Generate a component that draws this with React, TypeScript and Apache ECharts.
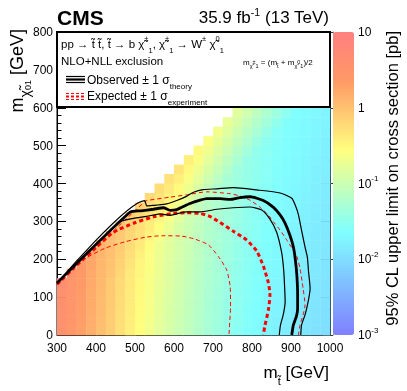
import React, { useEffect, useRef } from 'react';
import * as echarts from 'echarts';

// stop mass bin lower edges [GeV]
const M_STOP_BINS = [300, 325, 350, 375, 400, 425, 450, 475, 500, 525, 550, 575, 600, 625, 650, 675, 700, 725, 750, 775, 800, 825, 850, 875, 900, 925, 950, 975];
// LSP mass bin lower edges [GeV]
const M_LSP_BINS = [0, 25, 50, 75, 100, 125, 150, 175, 200, 225, 250, 275, 300, 325, 350, 375, 400, 425, 450, 475, 500, 525, 550, 575, 600];

// log10 of the 95% CL upper limit [pb]; each row is one LSP bin, right-aligned to the last stop bin
const LOG_LIMIT_ROWS: number[][] = [
  [0.55, 0.42, 0.30, 0.16, 0.02, -0.12, -0.27, -0.42, -0.55, -0.67, -0.79, -0.90, -1.00, -1.10, -1.20, -1.30, -1.38, -1.46, -1.54, -1.61, -1.67, -1.73, -1.78, -1.83, -1.87, -1.91, -1.95, -1.98],
  [0.56, 0.43, 0.31, 0.17, 0.03, -0.11, -0.26, -0.41, -0.54, -0.66, -0.78, -0.89, -0.99, -1.09, -1.19, -1.29, -1.37, -1.45, -1.53, -1.60, -1.66, -1.72, -1.77, -1.82, -1.86, -1.90, -1.94, -1.97],
  [0.57, 0.44, 0.32, 0.18, 0.04, -0.10, -0.25, -0.40, -0.53, -0.65, -0.77, -0.88, -0.98, -1.08, -1.18, -1.28, -1.36, -1.44, -1.52, -1.59, -1.65, -1.71, -1.76, -1.81, -1.85, -1.89, -1.93, -1.96],
  [0.58, 0.45, 0.33, 0.19, 0.05, -0.09, -0.24, -0.39, -0.52, -0.64, -0.76, -0.87, -0.97, -1.07, -1.17, -1.27, -1.35, -1.43, -1.51, -1.58, -1.64, -1.70, -1.75, -1.80, -1.84, -1.88, -1.92, -1.95],
  [0.59, 0.46, 0.34, 0.20, 0.06, -0.08, -0.23, -0.38, -0.51, -0.63, -0.75, -0.86, -0.96, -1.06, -1.16, -1.26, -1.34, -1.42, -1.50, -1.57, -1.63, -1.69, -1.74, -1.79, -1.83, -1.87, -1.91, -1.94],
  [0.60, 0.47, 0.35, 0.21, 0.07, -0.07, -0.22, -0.37, -0.50, -0.62, -0.74, -0.85, -0.95, -1.05, -1.15, -1.25, -1.33, -1.41, -1.49, -1.56, -1.62, -1.68, -1.73, -1.78, -1.82, -1.86, -1.90, -1.94],
  [0.48, 0.36, 0.22, 0.08, -0.04, -0.19, -0.36, -0.49, -0.61, -0.73, -0.84, -0.94, -1.04, -1.14, -1.24, -1.32, -1.40, -1.48, -1.55, -1.61, -1.67, -1.72, -1.77, -1.81, -1.85, -1.89, -1.92],
  [0.37, 0.23, 0.09, -0.02, -0.16, -0.32, -0.48, -0.60, -0.72, -0.83, -0.93, -1.03, -1.13, -1.23, -1.31, -1.39, -1.47, -1.54, -1.60, -1.66, -1.71, -1.76, -1.80, -1.84, -1.88, -1.91],
  [0.24, 0.10, 0.00, -0.13, -0.28, -0.43, -0.59, -0.71, -0.82, -0.92, -1.02, -1.12, -1.22, -1.30, -1.38, -1.46, -1.53, -1.59, -1.65, -1.70, -1.75, -1.79, -1.83, -1.87, -1.90],
  [0.11, 0.02, -0.10, -0.24, -0.38, -0.53, -0.70, -0.81, -0.91, -1.01, -1.11, -1.21, -1.29, -1.37, -1.45, -1.52, -1.58, -1.64, -1.69, -1.74, -1.78, -1.82, -1.86, -1.89],
  [0.04, -0.06, -0.20, -0.32, -0.46, -0.63, -0.80, -0.90, -1.00, -1.10, -1.20, -1.28, -1.36, -1.44, -1.51, -1.57, -1.63, -1.68, -1.73, -1.77, -1.81, -1.85, -1.88],
  [-0.03, -0.15, -0.27, -0.40, -0.55, -0.72, -0.89, -0.99, -1.09, -1.19, -1.27, -1.35, -1.43, -1.50, -1.56, -1.62, -1.67, -1.72, -1.76, -1.80, -1.84, -1.87],
  [-0.11, -0.22, -0.34, -0.48, -0.63, -0.80, -0.98, -1.08, -1.18, -1.26, -1.34, -1.42, -1.49, -1.55, -1.61, -1.66, -1.71, -1.75, -1.79, -1.83, -1.86],
  [-0.17, -0.28, -0.41, -0.55, -0.70, -0.89, -1.07, -1.17, -1.25, -1.33, -1.41, -1.48, -1.54, -1.60, -1.65, -1.70, -1.74, -1.78, -1.82, -1.85],
  [-0.22, -0.33, -0.47, -0.61, -0.79, -0.98, -1.16, -1.24, -1.32, -1.40, -1.47, -1.53, -1.59, -1.64, -1.69, -1.73, -1.77, -1.81, -1.84],
  [-0.26, -0.38, -0.52, -0.70, -0.88, -1.07, -1.23, -1.31, -1.39, -1.46, -1.52, -1.58, -1.63, -1.68, -1.72, -1.76, -1.80, -1.83],
  [-0.30, -0.42, -0.61, -0.79, -0.97, -1.14, -1.30, -1.38, -1.45, -1.51, -1.57, -1.62, -1.67, -1.71, -1.75, -1.79, -1.82],
  [-0.33, -0.51, -0.70, -0.88, -1.04, -1.21, -1.37, -1.44, -1.50, -1.56, -1.61, -1.66, -1.70, -1.74, -1.78, -1.81],
  [-0.42, -0.60, -0.79, -0.95, -1.11, -1.28, -1.43, -1.49, -1.55, -1.60, -1.65, -1.69, -1.73, -1.77, -1.80],
  [-0.51, -0.69, -0.86, -1.02, -1.18, -1.34, -1.48, -1.54, -1.59, -1.64, -1.68, -1.72, -1.76, -1.79],
  [-0.60, -0.76, -0.93, -1.09, -1.24, -1.39, -1.53, -1.58, -1.63, -1.67, -1.71, -1.75, -1.78],
  [-0.67, -0.83, -1.00, -1.15, -1.29, -1.44, -1.57, -1.62, -1.66, -1.70, -1.74, -1.77],
  [-0.74, -0.90, -1.06, -1.20, -1.34, -1.48, -1.61, -1.65, -1.69, -1.73, -1.76],
  [-0.81, -0.96, -1.11, -1.25, -1.38, -1.52, -1.64, -1.68, -1.72, -1.75],
  [-0.87, -1.01, -1.16, -1.29, -1.42, -1.55, -1.67, -1.71, -1.74],
];

// exclusion contours [m_stop, m_LSP]
const OBS_CENTRAL = [[300, 137], [487, 324], [515, 328], [547, 332], [573, 336], [590, 329], [607, 331], [641, 347], [667, 356], [684, 360], [718, 360], [744, 358], [769, 363], [795, 365], [829, 355], [855, 337], [872, 317], [885, 295], [897, 264], [906, 233], [911, 200], [915, 158], [917, 106], [917, 70], [914, 50], [906, 26], [902, 0]];
const OBS_UP = [[300, 137], [525, 355], [530, 341], [556, 343], [581, 346], [607, 355], [632, 366], [650, 377], [675, 384], [710, 386], [752, 389], [812, 383], [872, 375], [902, 361], [912, 340], [919, 318], [927, 277], [936, 232], [942, 205], [945, 167], [949, 123], [944, 88], [936, 53], [927, 26], [925, 0]];
const OBS_DOWN = [[300, 137], [461, 298], [496, 308], [530, 313], [564, 320], [590, 316], [607, 320], [633, 325], [667, 325], [710, 332], [752, 336], [795, 338], [825, 330], [846, 306], [863, 272], [876, 218], [881, 175], [883, 141], [885, 88], [880, 53], [873, 26], [870, 0]];
const EXP_CENTRAL = [[300, 134], [350, 184], [400, 231], [440, 268], [461, 280], [496, 295], [547, 312], [598, 321], [632, 323], [667, 321], [692, 313], [718, 297], [752, 274], [786, 251], [812, 222], [829, 182], [842, 138], [846, 105], [842, 66], [833, 24], [829, 0]];
const EXP_UP = [[300, 136], [525, 352], [530, 355], [590, 364], [632, 370], [684, 378], [744, 373], [769, 367], [795, 356], [820, 338], [838, 321], [855, 299], [872, 277], [889, 251], [906, 224], [915, 207], [923, 176], [931, 123], [936, 79], [931, 53], [923, 26], [919, 0]];
const EXP_DOWN = [[300, 133], [338, 176], [372, 202], [423, 229], [474, 246], [526, 258], [568, 262], [620, 261], [654, 253], [688, 238], [714, 207], [735, 172], [744, 128], [745, 75], [742, 20], [741, 0]];

const COLOR_DECADES = [-3, -2, -1, 0, 1];

const FONT = 'Liberation Sans, Arial, Helvetica, sans-serif';

// pastel rainbow palette (stops as in the CMS SUSY style)
function buildPalette(): string[] {
  const stops = [0, 0.34, 0.61, 0.84, 1];
  const r = [0.5, 0.5, 1, 1, 1];
  const g = [0.5, 1, 1, 0.6, 0.5];
  const b = [1, 1, 0.5, 0.4, 0.5];
  const out: string[] = [];
  for (let i = 0; i <= 100; i++) {
    const t = i / 100;
    let k = 0;
    while (k < stops.length - 2 && t > stops[k + 1]) k++;
    const f = (t - stops[k]) / (stops[k + 1] - stops[k]);
    const c = (arr: number[]) => Math.round(255 * (arr[k] + (arr[k + 1] - arr[k]) * f));
    out.push(`rgb(${c(r)},${c(g)},${c(b)})`);
  }
  return out;
}

function minorLogTicks(): number[] {
  const v: number[] = [];
  for (let d = -3; d < 1; d++) for (let m = 2; m <= 9; m++) v.push(d + Math.log10(m));
  return v;
}

const richText = (x: number, y: number, text: string, rich: any, align = 'left', extra: any = {}, vAlign = 'middle') => ({
  type: 'text', z: 101, x, y, ...extra,
  style: { text, rich, align, textAlign: align, verticalAlign: vAlign, textVerticalAlign: vAlign },
});

export default function App() {
  const ref = useRef<HTMLDivElement>(null);
  useEffect(() => {
    const chart = echarts.init(ref.current!, null, { renderer: 'svg' });
    const binX = M_STOP_BINS[1] - M_STOP_BINS[0];
    const binY = M_LSP_BINS[1] - M_LSP_BINS[0];
    const cells: number[][] = [];
    LOG_LIMIT_ROWS.forEach((row, k) => {
      const start = M_STOP_BINS.length - row.length;
      row.forEach((v, i) => cells.push([M_STOP_BINS[start + i], M_LSP_BINS[k], v]));
    });

    const lineSeries = (data: number[][], color: string, width: number, type: any) => ({
      type: 'line', xAxisIndex: 0, yAxisIndex: 0, data, showSymbol: false, symbol: 'none',
      smooth: 0.2, silent: true, z: 5,
      lineStyle: { color, width, type },
    });

    const mainAxisCommon = {
      axisLine: { show: true, lineStyle: { color: '#000', width: 1 } },
      axisTick: { show: true, inside: true, length: 9, lineStyle: { color: '#000', width: 1 } },
      minorTick: { show: true, splitNumber: 5, length: 4.5, lineStyle: { color: '#000', width: 1 } },
      splitLine: { show: false },
      minorSplitLine: { show: false },
    };

    const txt = (size: number, extra: any = {}) => ({ fontSize: size, fontFamily: FONT, fill: '#000', color: '#000', ...extra });

    const option: any = {
      animation: false,
      textStyle: { fontFamily: FONT },
      grid: [
        { left: 57, top: 32, width: 273, height: 303, show: true, borderColor: '#000', borderWidth: 1, backgroundColor: 'transparent' },
        { left: 333, top: 32, width: 21, height: 303 },
      ],
      xAxis: [
        {
          gridIndex: 0, type: 'value', min: 300, max: 1000, interval: 100, ...mainAxisCommon,
          axisLabel: { color: '#000', fontSize: 12, fontFamily: FONT, margin: 7, lineHeight: 12, showMinLabel: true, showMaxLabel: true, formatter: (v: number) => String(v) },
        },
        { gridIndex: 1, type: 'value', min: 0, max: 1, show: false },
      ],
      yAxis: [
        {
          gridIndex: 0, type: 'value', min: 0, max: 800, interval: 100, position: 'left', ...mainAxisCommon,
          axisLabel: { color: '#000', fontSize: 12, fontFamily: FONT, margin: 4, lineHeight: 12, showMinLabel: true, showMaxLabel: true, formatter: (v: number) => String(v) },
        },
        {
          gridIndex: 0, type: 'value', min: 0, max: 800, interval: 100, position: 'right', ...mainAxisCommon,
          axisLabel: { show: false },
        },
        {
          gridIndex: 1, type: 'value', min: -3, max: 1, position: 'right',
          axisLine: { show: true, lineStyle: { color: '#888', width: 1 } },
          axisTick: { show: true, inside: true, length: 10, customValues: COLOR_DECADES, lineStyle: { color: '#333', width: 1 } },
          axisLabel: {
            show: true, customValues: COLOR_DECADES, margin: 4, color: '#000',
            formatter: (v: number) => {
              const e = Math.round(v);
              if (e === 1) return '{n|10}';
              if (e === 0) return '{n|1}';
              return `{n|10}{sup|${e}}`;
            },
            rich: {
              n: { fontSize: 12, fontFamily: FONT, color: '#000', lineHeight: 18 },
              sup: { fontSize: 8, fontFamily: FONT, color: '#000', lineHeight: 10, verticalAlign: 'top' },
            },
          },
          splitLine: { show: false },
        },
        {
          gridIndex: 1, type: 'value', min: -3, max: 1, position: 'right',
          axisLine: { show: false },
          axisTick: { show: true, inside: true, length: 5, customValues: minorLogTicks(), lineStyle: { color: '#333', width: 1 } },
          axisLabel: { show: false },
          splitLine: { show: false },
        },
      ],
      visualMap: {
        type: 'continuous', min: -3, max: 1, dimension: 2, seriesIndex: 0,
        inRange: { color: buildPalette() },
        orient: 'vertical', left: 333, top: 32, itemWidth: 21, itemHeight: 303, padding: 0,
        calculable: false, hoverLink: false, realtime: false,
      },
      series: [
        {
          type: 'custom', xAxisIndex: 0, yAxisIndex: 0, data: cells, silent: true, z: 1,
          encode: { x: 0, y: 1 },
          renderItem: (params: any, api: any) => {
            const x0 = api.value(0);
            const y0 = api.value(1);
            const a = api.coord([x0, y0 + binY]);
            const b = api.coord([x0 + binX, y0]);
            return {
              type: 'rect',
              shape: { x: a[0], y: a[1], width: b[0] - a[0] + 0.4, height: b[1] - a[1] + 0.4 },
              style: { fill: api.visual('color') },
            };
          },
        },
        lineSeries(EXP_DOWN, '#ff0000', 1, [4, 3]),
        lineSeries(EXP_UP, '#ff0000', 1, [4, 3]),
        lineSeries(EXP_CENTRAL, '#ff0000', 3, [4, 3]),
        lineSeries(OBS_DOWN, '#000', 1.2, 'solid'),
        lineSeries(OBS_UP, '#000', 1.2, 'solid'),
        lineSeries(OBS_CENTRAL, '#000', 2.8, 'solid'),
        { type: 'line', xAxisIndex: 1, yAxisIndex: 2, data: [] },
      ],
      graphic: [
        // legend box
        { type: 'rect', z: 100, shape: { x: 57, y: 32, width: 273, height: 75 }, style: { fill: '#fff', stroke: '#000', lineWidth: 2 } },
        // process line + NLO+NLL line in one two-line text block
        richText(61, 34,
          '{n|pp → t\u0303 t\u0303, t\u0303 → b χ\u0303}{sup|±}{sub|1}{n|, χ\u0303}{sup|±}{sub|1}{n| → W}{sup|±}{n| χ\u0303}{sup|0}{sub|1}\n{m|NLO+NLL exclusion}',
          {
            n: txt(11.5, { lineHeight: 20 }),
            m: txt(11.5, { lineHeight: 14 }),
            sup: txt(7.5, { lineHeight: 10, verticalAlign: 'top' }),
            sub: txt(7.5, { lineHeight: 10, verticalAlign: 'bottom' }),
          }, 'left', {}, 'top'),
        richText(243, 62,
          '{n|m}{sub|χ\u0303}{ss|±}{sub|1}{n| = (m}{sub|t\u0303}{n| + m}{sub|χ\u0303}{ss|0}{sub|1}{n|)/2}',
          {
            n: txt(8, { lineHeight: 14 }),
            sub: txt(5.5, { lineHeight: 7, verticalAlign: 'bottom' }),
            ss: txt(5.5, { lineHeight: 7, verticalAlign: 'middle' }),
          }),
        // observed legend symbol
        { type: 'line', z: 101, shape: { x1: 66, y1: 76.5, x2: 85, y2: 76.5 }, style: { stroke: '#000', lineWidth: 1.2 } },
        { type: 'line', z: 101, shape: { x1: 66, y1: 79.5, x2: 85, y2: 79.5 }, style: { stroke: '#000', lineWidth: 2.2 } },
        { type: 'line', z: 101, shape: { x1: 66, y1: 82.5, x2: 85, y2: 82.5 }, style: { stroke: '#000', lineWidth: 1.2 } },
        richText(87, 80, '{n|Observed ± 1 σ}{sub|theory}', {
          n: txt(12, { lineHeight: 20 }),
          sub: txt(8, { lineHeight: 10, verticalAlign: 'bottom' }),
        }),
        // expected legend symbol
        { type: 'line', z: 101, shape: { x1: 66, y1: 93.5, x2: 85, y2: 93.5 }, style: { stroke: '#ff0000', lineWidth: 1.2, lineDash: [3, 2] } },
        { type: 'line', z: 101, shape: { x1: 66, y1: 96.5, x2: 85, y2: 96.5 }, style: { stroke: '#ff0000', lineWidth: 2, lineDash: [3, 2] } },
        { type: 'line', z: 101, shape: { x1: 66, y1: 99.5, x2: 85, y2: 99.5 }, style: { stroke: '#ff0000', lineWidth: 1.2, lineDash: [3, 2] } },
        richText(87, 96, '{n|Expected ± 1 σ}{sub|experiment}', {
          n: txt(12, { lineHeight: 20 }),
          sub: txt(8, { lineHeight: 10, verticalAlign: 'bottom' }),
        }),
        // CMS label and lumi
        richText(57, 17, '{b|CMS}', { b: txt(21, { fontWeight: 'bold', lineHeight: 24 }) }),
        richText(329, 17, '{n|35.9 fb}{sup|-1}{n| (13 TeV)}', {
          n: txt(17, { lineHeight: 22 }),
          sup: txt(10.5, { lineHeight: 12, verticalAlign: 'top' }),
        }, 'right'),
        // x-axis title
        richText(329, 372, '{n|m}{sub|t\u0303}{n| [GeV]}', {
          n: txt(17, { lineHeight: 28 }),
          sub: txt(11, { lineHeight: 12, verticalAlign: 'bottom' }),
        }, 'right'),
        // y-axis title
        richText(17, 29, '{n|m}{sub|χ\u0303}{ss|0}{sub2|1}{n| [GeV]}', {
          n: txt(18, { lineHeight: 30 }),
          sub: txt(14, { lineHeight: 16, verticalAlign: 'bottom' }),
          ss: txt(9, { lineHeight: 22, verticalAlign: 'bottom' }),
          sub2: txt(9, { lineHeight: 10, verticalAlign: 'bottom' }),
        }, 'right', { rotation: Math.PI / 2 }),
        // colour bar title
        richText(392, 31, '{n|95% CL upper limit on cross section [pb]}', {
          n: txt(16.5, { lineHeight: 20 }),
        }, 'right', { rotation: Math.PI / 2 }),
      ],
    };
    chart.setOption(option);
    return () => chart.dispose();
  }, []);
  return <div ref={ref} style={{ position: 'fixed', left: 0, top: 0, width: 407, height: 391 }} />;
}
